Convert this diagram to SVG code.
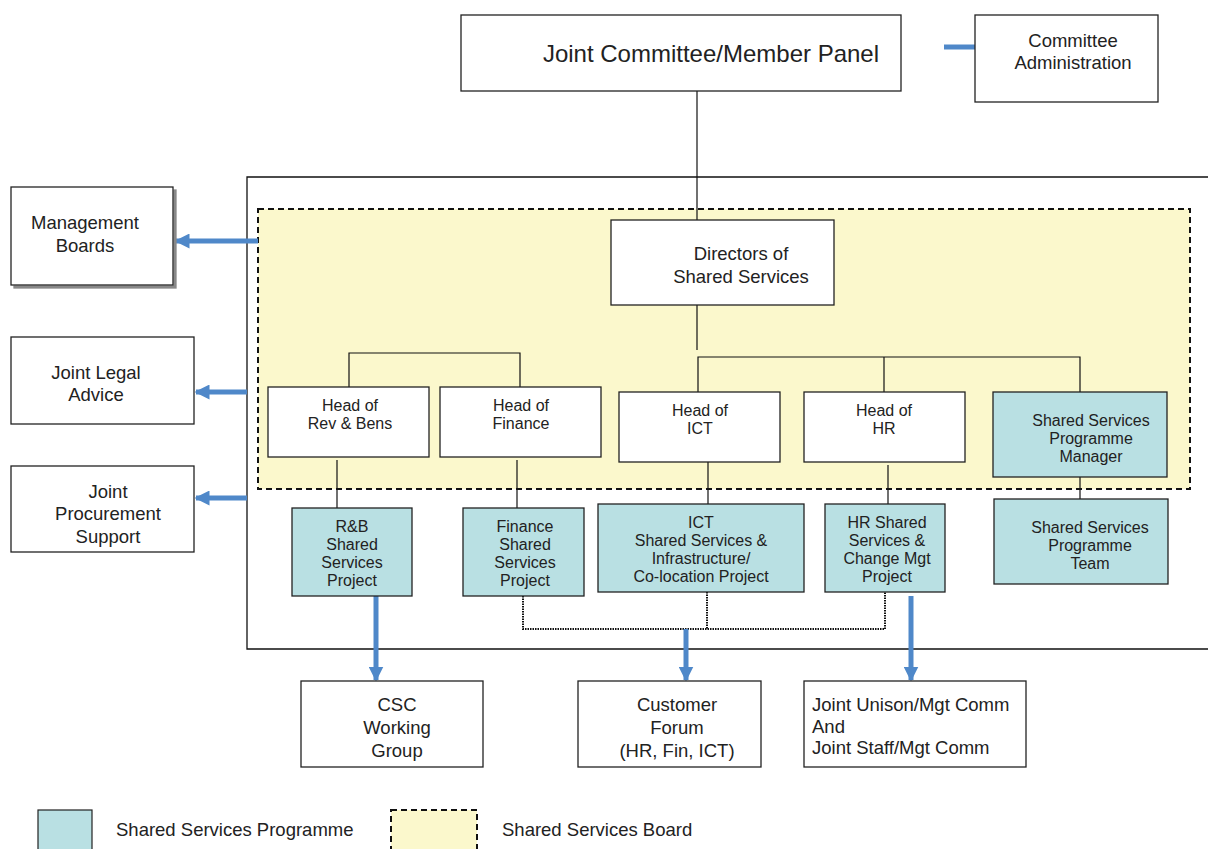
<svg xmlns="http://www.w3.org/2000/svg" width="1208" height="849" viewBox="0 0 1208 849">
<defs>
<marker id="ah" viewBox="0 0 10 10" refX="9" refY="5" markerWidth="3" markerHeight="3" orient="auto" markerUnits="strokeWidth">
<path d="M0,0 L10,5 L0,10 z" fill="#4f88c9"/>
</marker>
<filter id="sh" x="-10%" y="-10%" width="130%" height="130%">
<feOffset dx="3" dy="3" in="SourceAlpha" result="o"/>
<feFlood flood-color="#888"/>
<feComposite in2="o" operator="in"/>
<feMerge><feMergeNode/><feMergeNode in="SourceGraphic"/></feMerge>
</filter>
</defs>
<style>
.b{fill:#fff;stroke:#222;stroke-width:1.3}
.t{fill:#b9e0e3;stroke:#222;stroke-width:1.3}
text{font-family:"Liberation Sans",Arial,sans-serif;fill:#222;text-anchor:middle}
.s14{font-size:16px}
.s15{font-size:16px}
.s16{font-size:18.5px}
text.l{text-anchor:start}
.ln{stroke:#111;stroke-width:1.2;fill:none}
.dot{stroke:#111;stroke-width:2;fill:none;stroke-dasharray:1.5 1}
.bl{stroke:#4f88c9;stroke-width:5;fill:none}
.bla{stroke:#4f88c9;stroke-width:5;fill:none;marker-end:url(#ah)}
</style>
<rect width="1208" height="849" fill="#fff"/>

<g id="outer-frame"><path d="M1208,177 L247,177 L247,649 L1208,649" fill="none" stroke="#111" stroke-width="1.3"/></g>
<g id="board-area"><rect x="258" y="209" width="932" height="280" fill="#fbf8cc" stroke="#111" stroke-width="2" stroke-dasharray="6 4"/></g>

<g id="connectors">
<line class="ln" x1="697" y1="91" x2="697" y2="220"/>
<line class="ln" x1="697" y1="305" x2="697" y2="350"/>
<polyline class="ln" points="698,392 698,357 1080,357 1080,392"/>
<line class="ln" x1="884" y1="357" x2="884" y2="392"/>
<polyline class="ln" points="349,387 349,353 520,353 520,387"/>
<line class="ln" x1="337" y1="460" x2="337" y2="508"/>
<line class="ln" x1="517" y1="460" x2="517" y2="508"/>
<line class="ln" x1="708" y1="460" x2="708" y2="504"/>
<line class="ln" x1="888" y1="465" x2="888" y2="504"/>
<line class="ln" x1="1080" y1="477" x2="1080" y2="499"/>
<polyline class="dot" points="523,596 523,629 885,629 885,592"/>
<line class="dot" x1="707" y1="592" x2="707" y2="629"/>
<line class="bl" x1="944" y1="47" x2="975" y2="47"/>
<line class="bla" x1="258" y1="241" x2="176" y2="241"/>
<line class="bla" x1="247" y1="392" x2="196" y2="392"/>
<line class="bla" x1="247" y1="498" x2="196" y2="498"/>
<line class="bla" x1="376" y1="596" x2="376" y2="680"/>
<line class="bla" x1="686" y1="629" x2="686" y2="680"/>
<line class="bla" x1="911" y1="596" x2="911" y2="680"/>
</g>

<g id="joint-committee"><rect class="b" x="461" y="15" width="440" height="76"/><text x="711" y="62" font-size="24">Joint Committee/Member Panel</text></g>
<g id="committee-admin"><rect class="b" x="975" y="15" width="183" height="87"/><text class="s16" x="1073" y="47">Committee</text><text class="s16" x="1073" y="69">Administration</text></g>

<g id="management-boards"><rect class="b" x="11" y="187" width="162" height="98" filter="url(#sh)"/><text class="s16" x="85" y="229">Management</text><text class="s16" x="85" y="252">Boards</text></g>
<g id="joint-legal"><rect class="b" x="11" y="337" width="183" height="87"/><text class="s16" x="96" y="379">Joint Legal</text><text class="s16" x="96" y="401">Advice</text></g>
<g id="joint-procurement"><rect class="b" x="11" y="466" width="183" height="86"/><text class="s16" x="108" y="498">Joint</text><text class="s16" x="108" y="520">Procurement</text><text class="s16" x="108" y="543">Support</text></g>

<g id="directors"><rect class="b" x="611" y="220" width="223" height="85"/><text class="s16" x="741" y="260">Directors of</text><text class="s16" x="741" y="283">Shared Services</text></g>

<g id="head-revbens"><rect class="b" x="268" y="387" width="161" height="70"/><text class="s14" x="350" y="411">Head of</text><text class="s14" x="350" y="429">Rev &amp; Bens</text></g>
<g id="head-finance"><rect class="b" x="440" y="387" width="161" height="70"/><text class="s14" x="521" y="411">Head of</text><text class="s14" x="521" y="429">Finance</text></g>
<g id="head-ict"><rect class="b" x="619" y="392" width="161" height="70"/><text class="s14" x="700" y="416">Head of</text><text class="s14" x="700" y="434">ICT</text></g>
<g id="head-hr"><rect class="b" x="804" y="392" width="161" height="70"/><text class="s14" x="884" y="416">Head of</text><text class="s14" x="884" y="434">HR</text></g>
<g id="ss-manager"><rect class="t" x="993" y="392" width="174" height="85"/><text class="s15" x="1091" y="426">Shared Services</text><text class="s15" x="1091" y="444">Programme</text><text class="s15" x="1091" y="462">Manager</text></g>

<g id="rb-project"><rect class="t" x="292" y="508" width="120" height="88"/><text class="s15" x="352" y="532">R&amp;B</text><text class="s15" x="352" y="550">Shared</text><text class="s15" x="352" y="568">Services</text><text class="s15" x="352" y="586">Project</text></g>
<g id="finance-project"><rect class="t" x="463" y="508" width="121" height="88"/><text class="s15" x="525" y="532">Finance</text><text class="s15" x="525" y="550">Shared</text><text class="s15" x="525" y="568">Services</text><text class="s15" x="525" y="586">Project</text></g>
<g id="ict-project"><rect class="t" x="598" y="504" width="206" height="88"/><text class="s14" x="701" y="528">ICT</text><text class="s14" x="701" y="546">Shared Services &amp;</text><text class="s14" x="701" y="564">Infrastructure/</text><text class="s14" x="701" y="582">Co-location Project</text></g>
<g id="hr-project"><rect class="t" x="825" y="504" width="120" height="88"/><text class="s14" x="887" y="528">HR Shared</text><text class="s14" x="887" y="546">Services &amp;</text><text class="s14" x="887" y="564">Change Mgt</text><text class="s14" x="887" y="582">Project</text></g>
<g id="ss-team"><rect class="t" x="994" y="499" width="174" height="85"/><text class="s15" x="1090" y="533">Shared Services</text><text class="s15" x="1090" y="551">Programme</text><text class="s15" x="1090" y="569">Team</text></g>

<g id="csc"><rect class="b" x="301" y="681" width="182" height="86"/><text class="s16" x="397" y="711">CSC</text><text class="s16" x="397" y="734">Working</text><text class="s16" x="397" y="757">Group</text></g>
<g id="customer-forum"><rect class="b" x="578" y="681" width="183" height="86"/><text class="s16" x="677" y="711">Customer</text><text class="s16" x="677" y="734">Forum</text><text class="s16" x="677" y="757">(HR, Fin, ICT)</text></g>
<g id="joint-unison"><rect class="b" x="804" y="681" width="222" height="86"/><text class="s16 l" x="812" y="711">Joint Unison/Mgt Comm</text><text class="s16 l" x="812" y="733">And</text><text class="s16 l" x="812" y="754">Joint Staff/Mgt Comm</text></g>

<g id="legend">
<rect x="38" y="810" width="54" height="45" fill="#b9e0e3" stroke="#222" stroke-width="1.2"/>
<text class="s16 l" x="116" y="836">Shared Services Programme</text>
<rect x="391" y="810" width="86" height="45" fill="#fbf8cc" stroke="#111" stroke-width="2" stroke-dasharray="6 4"/>
<text class="s16 l" x="502" y="836">Shared Services Board</text>
</g>
</svg>
